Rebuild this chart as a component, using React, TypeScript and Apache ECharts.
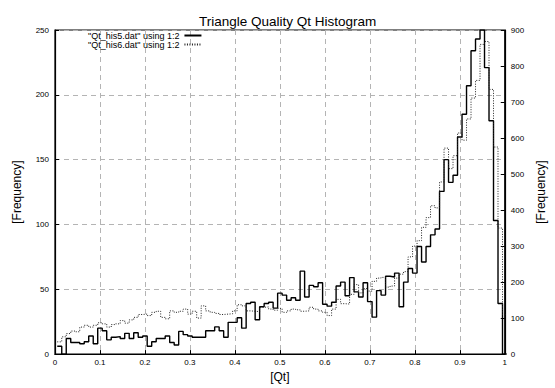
import React, { useEffect, useRef } from 'react';
import * as echarts from 'echarts';

// Bin counts (100 bins of width 0.01)
const his5: number[] = [
  6, 0, 12, 9, 9, 8, 9.5, 14, 8, 20,
  18, 11, 13, 13.5, 12, 16, 12, 16.5, 13, 14,
  6, 9.5, 12, 12, 14, 9, 7, 17.5, 15, 14,
  13, 13, 13, 18, 18, 21, 18, 13, 24.5, 24.5,
  28, 20, 39, 40, 26.5, 36.5, 39, 40, 35.5, 47,
  45.5, 41.5, 43.5, 41.5, 64, 44, 53, 52, 55, 38.5,
  37, 40, 52.5, 55.5, 45, 59, 48, 44, 55, 40.5,
  28.5, 49, 45.5, 60, 59.5, 62.5, 36.5, 55.5, 66, 62.5,
  83, 71, 83, 92, 96.5, 125.5, 150, 132.5, 138, 167.5,
  185, 207, 234, 243, 250, 221, 180, 103, 39, 0,
];
const his6: number[] = [
  34, 48, 57, 64, 62, 75, 80, 75, 80, 87,
  84, 75, 82, 84, 93, 86, 95, 102, 110, 111,
  107, 116, 119, 102, 98, 120, 116, 119, 125, 111,
  119, 100, 134, 120, 116, 113, 110, 111, 112, 120,
  137, 134, 120, 119, 118, 130, 131, 125, 122, 127,
  116, 120, 125, 123, 119, 120, 130, 125, 120, 116,
  107, 125, 152, 140, 139, 166, 193, 170, 182, 175,
  202, 211, 213, 186, 189, 211, 222, 229, 270, 300,
  315, 352, 379, 412, 406, 478, 572, 515, 551, 614,
  594, 653, 711, 760, 860, 868, 735, 575, 350, 110,
];
const binStart = 0.005;
const binWidth = 0.01;
const seriesNames = ['"Qt_his5.dat" using 1:2', '"Qt_his6.dat" using 1:2'];
const titleText = 'Triangle Quality Qt Histogram';
const xName = '[Qt]';
const yName = '[Frequency]';

function toSteps(vals: number[]): number[][] {
  const d = vals.map((v, i) => [binStart + i * binWidth, v]);
  d.push([binStart + vals.length * binWidth, vals[vals.length - 1]]);
  return d;
}

const FONT = '"Liberation Sans", Arial, Helvetica, sans-serif';

export default function App() {
  const ref = useRef<HTMLDivElement>(null);
  useEffect(() => {
    const chart = echarts.init(ref.current!, null, { renderer: 'svg' });
    const gridLine = { show: true, lineStyle: { color: '#b4b4b4', width: 1, type: [5, 4] as any } };
    chart.setOption({
      animation: false,
      backgroundColor: '#ffffff',
      textStyle: { fontFamily: FONT },
      title: {
        text: titleText,
        left: 194,
        top: 9,
        textStyle: { fontSize: 13.5, fontWeight: 'normal', color: '#000', fontFamily: FONT },
      },
      legend: {
        orient: 'vertical',
        left: 88,
        top: 31,
        align: 'right',
        itemWidth: 17,
        itemHeight: 6,
        itemGap: 0,
        padding: 0,
        itemStyle: { opacity: 0, borderWidth: 0 },
        textStyle: { fontSize: 9, color: '#000', fontFamily: FONT },
        data: seriesNames,
      },
      grid: {
        left: 55,
        right: 39,
        top: 30,
        bottom: 27,
        show: true,
        borderColor: '#000',
        borderWidth: 1.2,
        backgroundColor: 'transparent',
      },
      xAxis: {
        type: 'value',
        min: 0,
        max: 1,
        interval: 0.1,
        name: xName,
        nameLocation: 'middle',
        nameGap: 14,
        nameTextStyle: { fontSize: 12, color: '#000', fontFamily: FONT },
        axisLine: { show: true, lineStyle: { color: '#000', width: 1.2 } },
        axisTick: { show: true, inside: true, length: 4, lineStyle: { color: '#000' } },
        axisLabel: {
          fontSize: 8,
          color: '#000',
          margin: 4,
          formatter: (v: number) => (Math.abs(v) < 1e-9 ? '0' : Math.abs(v - 1) < 1e-9 ? '1' : v.toFixed(1)),
        },
        splitLine: gridLine,
      },
      yAxis: [
        {
          type: 'value',
          min: 0,
          max: 250,
          interval: 50,
          name: yName,
          nameLocation: 'middle',
          nameGap: 32,
          nameTextStyle: { fontSize: 12, color: '#000', fontFamily: FONT },
          axisLine: { show: true, lineStyle: { color: '#000', width: 1.2 } },
          axisTick: { show: true, inside: true, length: 4, lineStyle: { color: '#000' } },
          axisLabel: { fontSize: 8, color: '#000', margin: 6 },
          splitLine: gridLine,
        },
        {
          type: 'value',
          min: 0,
          max: 900,
          interval: 100,
          name: yName,
          nameLocation: 'middle',
          nameGap: 29,
          nameRotate: 90,
          nameTextStyle: { fontSize: 12, color: '#000', fontFamily: FONT },
          axisLine: { show: true, lineStyle: { color: '#000', width: 1.2 } },
          axisTick: { show: true, inside: true, length: 4, lineStyle: { color: '#000' } },
          axisLabel: { fontSize: 8, color: '#000', margin: 6 },
          splitLine: { show: false },
        },
      ],
      series: [
        {
          name: seriesNames[0],
          type: 'line',
          step: 'end',
          yAxisIndex: 0,
          showSymbol: false,
          symbol: 'none',
          data: toSteps(his5),
          lineStyle: { color: '#000', width: 1.4, type: 'solid' },
          itemStyle: { color: '#000' },
          clip: true,
        },
        {
          name: seriesNames[1],
          type: 'line',
          step: 'end',
          yAxisIndex: 1,
          showSymbol: false,
          symbol: 'none',
          data: toSteps(his6),
          lineStyle: { color: '#222', width: 1, type: [1, 1.5] as any },
          itemStyle: { color: '#222' },
          clip: true,
        },
      ],
    });
    return () => chart.dispose();
  }, []);
  return <div ref={ref} style={{ position: 'fixed', left: 0, top: 0, width: 555, height: 388 }} />;
}
